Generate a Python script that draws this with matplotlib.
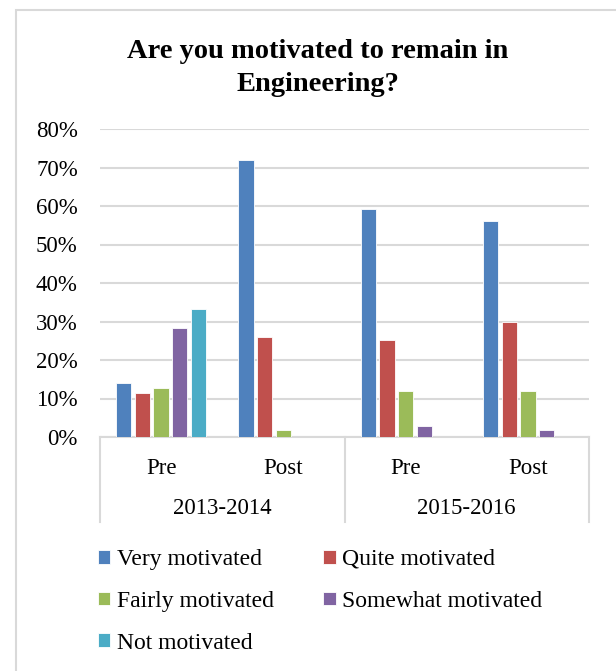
import matplotlib.pyplot as plt
from matplotlib.patches import Rectangle
import numpy as np

plt.rcParams["font.family"] = ["Liberation Serif", "DejaVu Serif"]

# data
periods = ["Pre", "Post", "Pre", "Post"]
years = ["2013-2014", "2015-2016"]
series = ["Very motivated", "Quite motivated", "Fairly motivated",
          "Somewhat motivated", "Not motivated"]
very = [14, 72, 59.3, 56]
quite = [11.5, 26, 25.3, 30]
fairly = [12.8, 1.8, 12, 12]
somewhat = [28.2, 0, 2.8, 1.8]
not_mot = [33.3, 0, 0, 0]
colors = ["#4F81BD", "#C0504D", "#9BBB59", "#8064A2", "#4BACC6"]

W, H = 616, 671
fig = plt.figure(figsize=(W / 100, H / 100), dpi=100)

# outer chart frame (cut off on the right / bottom like the reference)
fig.patches.append(Rectangle((16 / W, -0.05), 1.1, 1 - 10 / H + 0.05,
                             transform=fig.transFigure, fill=False,
                             edgecolor="#d9d9d9", lw=1.5))

ax = fig.add_axes([100 / W, 1 - 437 / H, 489 / W, 308 / H])

x = np.arange(len(periods))
pitch = 0.153
width = 0.125
handles = []
for i, vals in enumerate([very, quite, fairly, somewhat, not_mot]):
    b = ax.bar(x + (i - 2) * pitch, np.array(vals) / 100, width,
               color=colors[i], edgecolor="white", linewidth=0.6,
               label=series[i], zorder=3)
    handles.append(b)

ax.set_xlim(-0.5, 3.5)
ax.set_ylim(0, 0.8)
ax.set_yticks(np.arange(0, 0.81, 0.1))
ax.set_yticklabels([f"{int(round(v * 100))}%" for v in np.arange(0, 0.81, 0.1)])
ax.tick_params(axis="y", length=0, pad=16, labelsize=16.5)
ax.set_xticks([])
ax.grid(axis="y", color="#d9d9d9", lw=1.5, zorder=0)
for s in ["top", "right", "left"]:
    ax.spines[s].set_visible(False)
ax.spines["bottom"].set_color("#d9d9d9")
ax.spines["bottom"].set_linewidth(1.5)

# multi-level category axis
tr = ax.get_xaxis_transform()
for xv in [-0.5, 1.5, 3.5]:
    ax.plot([xv, xv], [0, -85 / 308], transform=tr, color="#d9d9d9",
            lw=1.5, clip_on=False)
for xi, p in zip(x, periods):
    ax.text(xi, -31 / 308, p, transform=tr, ha="center", va="center",
            fontsize=16.5)
for j, yr in enumerate(years):
    ax.text(2 * j + 0.5, -72 / 308, yr, transform=tr, ha="center",
            va="center", fontsize=16.5)

fig.text(318 / W, 1 - 68 / H, "Are you motivated to remain in\nEngineering?",
         ha="center", va="center", fontsize=20.5, fontweight="bold",
         linespacing=1.42)

order = [0, 2, 4, 1, 3]
leg = fig.legend([handles[k] for k in order], [series[k] for k in order],
                 ncol=2, loc="upper left",
                 bbox_to_anchor=(98 / W, 1 - 549 / H), frameon=False,
                 fontsize=17, handlelength=0.52, handleheight=0.52,
                 handletextpad=0.27, columnspacing=2.1, labelspacing=0.88,
                 borderpad=0, borderaxespad=0)

fig.savefig("out.png", dpi=100)
